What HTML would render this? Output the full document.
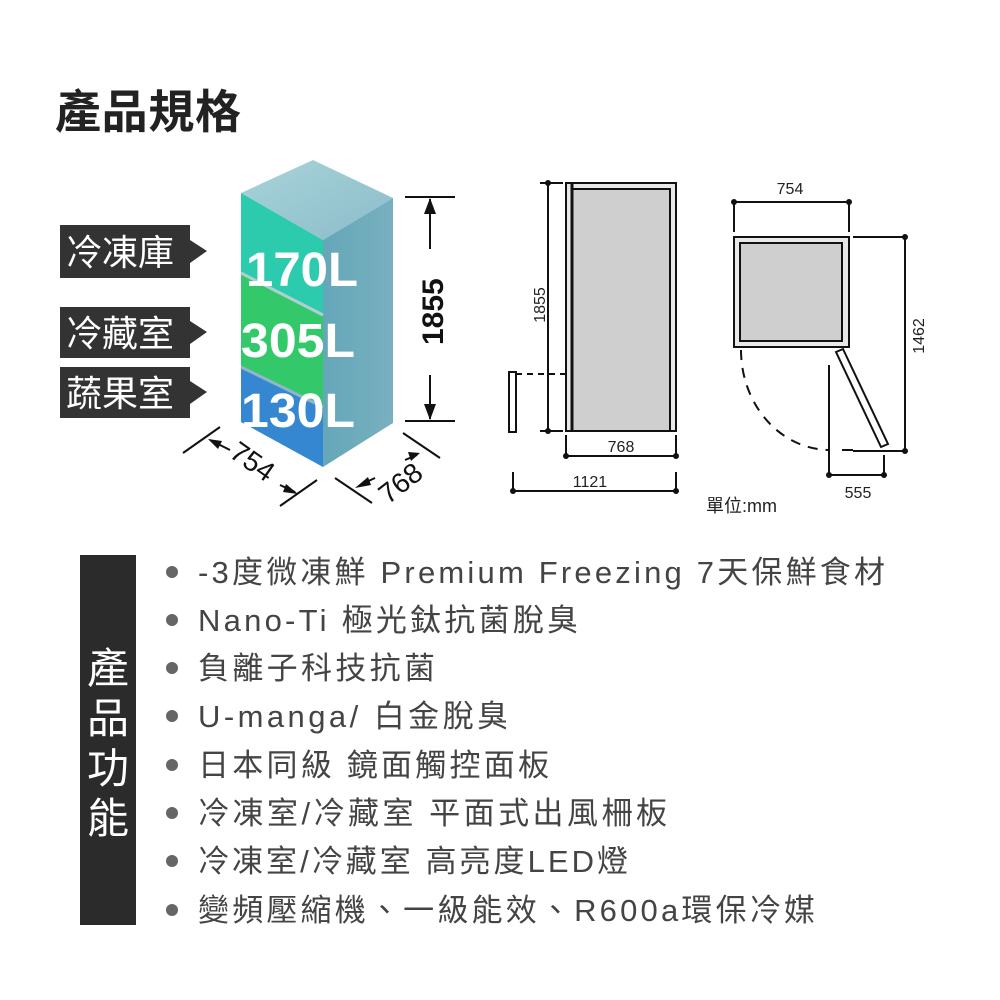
<!DOCTYPE html>
<html><head><meta charset="utf-8"><style>
body{margin:0;background:#fff}
svg{display:block}
.t{font-family:"Liberation Sans","Noto Sans CJK TC",sans-serif}
</style></head><body>
<svg width="1000" height="1000" viewBox="0 0 1000 1000" xmlns="http://www.w3.org/2000/svg">
<defs>
<linearGradient id="top" x1="0" y1="0" x2="1" y2="1"><stop offset="0" stop-color="#a8d4d8"/><stop offset="1" stop-color="#8cbccb"/></linearGradient>
<linearGradient id="side" x1="0" y1="0" x2="1" y2="0"><stop offset="0" stop-color="#64a7b9"/><stop offset="1" stop-color="#79b0bf"/></linearGradient>
</defs>
<text x="55" y="128" class="t" font-size="46" font-weight="bold" fill="#222" textLength="186" lengthAdjust="spacing">產品規格</text>

<g class="t" font-size="36" fill="#fff">
<path d="M60 225H190V240L207 251L190 263V278H60Z" fill="#333"/>
<text x="66" y="265">冷凍庫</text>
<path d="M60 307H190V321L207 332L190 344V358H60Z" fill="#333"/>
<text x="66" y="346">冷藏室</text>
<path d="M60 367H190V381L207 392L190 404V418H60Z" fill="#333"/>
<text x="66" y="406">蔬果室</text>
</g>

<polygon points="241,193 313,160 393,198 323,240" fill="url(#top)"/>
<polygon points="323,240 393,198 393,423 323,467" fill="url(#side)"/>
<polygon points="241,193 323,240 323,315 241,273" fill="#2ccbae"/>
<polygon points="241,273 323,315 323,407 241,367" fill="#33c96a"/>
<polygon points="241,367 323,407 323,467 241,422" fill="#3487d0"/>
<line x1="241" y1="273" x2="323" y2="315" stroke="#b0cfd2" stroke-width="3"/>
<line x1="241" y1="367" x2="323" y2="407" stroke="#8fb6c9" stroke-width="3"/>
<g class="t" font-size="48" font-weight="bold" fill="#fff">
<text x="246" y="286" textLength="112" lengthAdjust="spacingAndGlyphs">170L</text>
<text x="241" y="357" textLength="114" lengthAdjust="spacingAndGlyphs">305L</text>
<text x="241" y="427" textLength="114" lengthAdjust="spacingAndGlyphs">130L</text>
</g>
<g stroke="#111" stroke-width="2" fill="#111">
<line x1="405" y1="197" x2="455" y2="197"/>
<line x1="405" y1="421" x2="455" y2="421"/>
<line x1="430" y1="199" x2="430" y2="249"/>
<line x1="430" y1="375" x2="430" y2="419"/>
<polygon points="430,198 424,214 436,214" stroke="none"/>
<polygon points="430,420 424,404 436,404" stroke="none"/>
<line x1="183" y1="453" x2="220" y2="427"/>
<line x1="280" y1="506" x2="317" y2="480"/>
<line x1="210" y1="440" x2="230" y2="450"/>
<line x1="280" y1="485" x2="295" y2="492"/>
<polygon points="208,439 222,441 218,449" stroke="none"/>
<polygon points="298,494 286,484 283,492" stroke="none"/>
<line x1="335" y1="478" x2="372" y2="503"/>
<line x1="403" y1="433" x2="440" y2="458"/>
<line x1="360" y1="485" x2="375" y2="478"/>
<line x1="405" y1="460" x2="417" y2="455"/>
<polygon points="355,488 368,477 371,485" stroke="none"/>
<polygon points="420,453 408,452 411,461" stroke="none"/>
</g>
<text class="t" font-size="30" font-weight="bold" fill="#111" transform="translate(443,345) rotate(-90)">1855</text>
<text class="t" font-size="28" fill="#111" transform="translate(228,456) rotate(35)">754</text>
<text class="t" font-size="28" fill="#111" transform="translate(388,505) rotate(-38)">768</text>

<g stroke="#111" stroke-width="2" fill="none">
<line x1="548" y1="183" x2="548" y2="431"/>
<line x1="540" y1="183" x2="563" y2="183"/>
<line x1="540" y1="431" x2="563" y2="431"/>
<rect x="566" y="183" width="110" height="248" fill="#e8e8e8"/>
<rect x="572" y="189" width="98" height="242" fill="#cfcfcf"/>
<line x1="572" y1="183" x2="572" y2="431" stroke-width="3"/>
<rect x="509" y="372" width="7" height="60" fill="#fff"/>
<line x1="516" y1="374" x2="566" y2="374" stroke-dasharray="6,5"/>
<line x1="566" y1="435" x2="566" y2="456"/>
<line x1="676" y1="435" x2="676" y2="456"/>
<line x1="566" y1="456" x2="676" y2="456"/>
<line x1="513" y1="472" x2="513" y2="491"/>
<line x1="676" y1="472" x2="676" y2="491"/>
<line x1="513" y1="491" x2="676" y2="491"/>
<line x1="734" y1="202" x2="849" y2="202"/>
<line x1="734" y1="202" x2="734" y2="232"/>
<line x1="849" y1="202" x2="849" y2="232"/>
<rect x="734" y="237" width="115" height="110" fill="#e8e8e8"/>
<rect x="740" y="243" width="102" height="98" fill="#cfcfcf"/>
<line x1="853" y1="237" x2="905" y2="237"/>
<line x1="905" y1="237" x2="905" y2="451"/>
<line x1="853" y1="451" x2="905" y2="451"/>
<path d="M741 350 A89 100 0 0 0 830 450" stroke-dasharray="10,8"/>
<line x1="842" y1="450" x2="853" y2="450" />
<polygon points="836,352 843,349 888,444 881,447" fill="#fff"/>
<line x1="829" y1="365" x2="829" y2="475"/>
<line x1="884" y1="455" x2="884" y2="475"/>
<line x1="829" y1="475" x2="884" y2="475"/>
</g>
<g fill="#111">
<circle cx="548" cy="183" r="3"/><circle cx="548" cy="431" r="3"/>
<circle cx="566" cy="456" r="3"/><circle cx="676" cy="456" r="3"/>
<circle cx="513" cy="491" r="3"/><circle cx="676" cy="491" r="3"/>
<circle cx="734" cy="202" r="3"/><circle cx="849" cy="202" r="3"/>
<circle cx="905" cy="237" r="3"/><circle cx="905" cy="451" r="3"/>
<circle cx="829" cy="475" r="3"/><circle cx="884" cy="475" r="3"/>
</g>
<g class="t" font-size="16" fill="#222">
<text x="621" y="452" text-anchor="middle">768</text>
<text x="590" y="487" text-anchor="middle">1121</text>
<text x="790" y="194" text-anchor="middle">754</text>
<text x="858" y="498" text-anchor="middle">555</text>
<text transform="translate(545,305) rotate(-90)" text-anchor="middle">1855</text>
<text transform="translate(924,336) rotate(-90)" text-anchor="middle">1462</text>
<text x="706" y="512" font-size="18">單位:mm</text>
</g>

<rect x="80" y="555" width="56" height="370" fill="#2b2b2b"/>
<g class="t" font-size="42" fill="#fff" text-anchor="middle">
<text x="108" y="683">產</text>
<text x="108" y="733">品</text>
<text x="108" y="783">功</text>
<text x="108" y="833">能</text>
</g>
<g fill="#666">
<circle cx="172" cy="572" r="6"/><circle cx="172" cy="620" r="6"/><circle cx="172" cy="668" r="6"/><circle cx="172" cy="716" r="6"/>
<circle cx="172" cy="765" r="6"/><circle cx="172" cy="813" r="6"/><circle cx="172" cy="861" r="6"/><circle cx="172" cy="910" r="6"/>
</g>
<g class="t" font-size="31" fill="#444">
<text x="198" y="583" textLength="687" lengthAdjust="spacing">-3度微凍鮮 Premium Freezing 7天保鮮食材</text>
<text x="198" y="631" textLength="380" lengthAdjust="spacing">Nano-Ti 極光鈦抗菌脫臭</text>
<text x="198" y="679" textLength="237" lengthAdjust="spacing">負離子科技抗菌</text>
<text x="198" y="727" textLength="310" lengthAdjust="spacing">U-manga/ 白金脫臭</text>
<text x="198" y="776" textLength="351" lengthAdjust="spacing">日本同級 鏡面觸控面板</text>
<text x="198" y="824" textLength="469" lengthAdjust="spacing">冷凍室/冷藏室 平面式出風柵板</text>
<text x="198" y="872" textLength="430" lengthAdjust="spacing">冷凍室/冷藏室 高亮度LED燈</text>
<text x="198" y="921" textLength="617" lengthAdjust="spacing">變頻壓縮機、一級能效、R600a環保冷媒</text>
</g>
</svg>
</body></html>
